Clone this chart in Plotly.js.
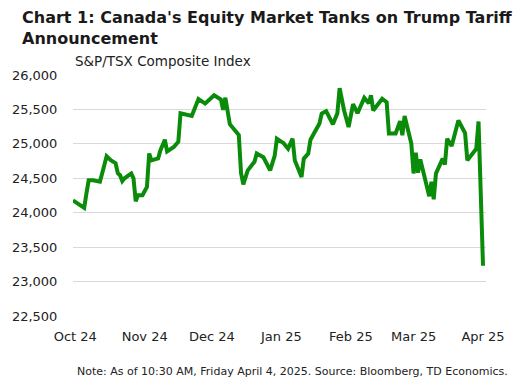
<!DOCTYPE html>
<html>
<head>
<meta charset="utf-8">
<script src="https://cdn.plot.ly/plotly-3.0.1.min.js"></script>
<style>html,body{margin:0;padding:0;background:#fff;}#chart{width:516px;height:386px;}</style>
</head>
<body>
<div id="chart"></div>
<script>
var dates = [
  "2024-09-30","2024-10-05","2024-10-06","2024-10-07","2024-10-09","2024-10-12","2024-10-13","2024-10-15",
  "2024-10-17","2024-10-19","2024-10-20","2024-10-21","2024-10-22","2024-10-23","2024-10-26","2024-10-27",
  "2024-10-28","2024-10-29","2024-10-31","2024-11-02","2024-11-03","2024-11-04","2024-11-07","2024-11-08",
  "2024-11-10","2024-11-11","2024-11-14","2024-11-16","2024-11-17","2024-11-22","2024-11-25","2024-11-28",
  "2024-12-02","2024-12-05","2024-12-06","2024-12-07","2024-12-09","2024-12-11","2024-12-13","2024-12-14",
  "2024-12-15","2024-12-17","2024-12-20","2024-12-21","2024-12-24","2024-12-27","2024-12-29","2024-12-30",
  "2025-01-02","2025-01-04","2025-01-06","2025-01-07","2025-01-10","2025-01-11","2025-01-13","2025-01-14",
  "2025-01-16","2025-01-18","2025-01-19","2025-01-21","2025-01-24","2025-01-26","2025-01-27","2025-01-29",
  "2025-01-31","2025-02-02","2025-02-04","2025-02-07","2025-02-09","2025-02-10","2025-02-11","2025-02-15",
  "2025-02-17","2025-02-18","2025-02-21","2025-02-23","2025-02-24","2025-02-25","2025-02-28","2025-03-01",
  "2025-03-02","2025-03-03","2025-03-04","2025-03-08","2025-03-09","2025-03-10","2025-03-11","2025-03-14",
  "2025-03-15","2025-03-16","2025-03-18","2025-03-21","2025-03-24","2025-03-25","2025-03-29","2025-03-30",
  "2025-04-01"
];
var tsxIndex = [
  24180,24070,24280,24470,24470,24450,24570,24820,
  24760,24720,24575,24545,24460,24500,24570,24500,
  24165,24255,24255,24375,24860,24760,24790,24905,
  25060,24890,24955,25030,25445,25405,25650,25585,
  25705,25645,25495,25670,25285,25205,25130,24575,
  24410,24615,24740,24860,24805,24615,24825,25075,
  25010,24930,25075,24760,24520,24785,24860,25060,
  25170,25295,25440,25475,25285,25445,25810,25485,
  25245,25575,25445,25670,25590,25705,25485,25655,
  25605,25150,25150,25330,25125,25405,25005,24570,
  24870,24580,24775,24240,24450,24195,24570,24785,
  24700,25075,24970,25340,25155,24760,24930,25325,
  23230
];
var monthTicks = ["2024-10-01","2024-11-01","2024-12-01","2025-01-01","2025-02-01","2025-03-01","2025-04-01"];
var monthLabels = ["Oct 24","Nov 24","Dec 24","Jan 25","Feb 25","Mar 25","Apr 25"];

var FONT = "'DejaVu Sans', sans-serif";

var trace = {
  x: dates, y: tsxIndex, type: "scatter", mode: "lines",
  line: {color: "#0a8c0a", width: 4, shape: "linear"},
  hoverinfo: "x+y"
};

var layout = {
  width: 516, height: 386,
  margin: {l: 73, r: 30, t: 74.5, b: 70},
  paper_bgcolor: "#ffffff", plot_bgcolor: "#ffffff",
  showlegend: false,
  font: {family: FONT, color: "#222222"},
  title: {
    text: "<b>Chart 1: Canada's Equity Market Tanks on Trump Tariff<br>Announcement</b>",
    font: {family: FONT, size: 16, color: "#1a1a1a"},
    x: 22/516, xanchor: "left", xref: "container",
    y: 1 - 23/386, yanchor: "top", yref: "container"
  },
  xaxis: {
    type: "date",
    range: ["2024-09-30", "2025-04-02 08:00"],
    tickvals: monthTicks, ticktext: monthLabels,
    showgrid: false, zeroline: false, showline: false,
    ticks: "outside", ticklen: 8, tickcolor: "rgba(0,0,0,0)",
    tickfont: {family: FONT, size: 13, color: "#222222"}
  },
  yaxis: {
    range: [22500, 26000],
    dtick: 500, tick0: 22500, tickformat: ",d",
    showgrid: true, gridcolor: "#d9d9d9", gridwidth: 1,
    zeroline: false, showline: false,
    ticks: "outside", ticklen: 12, tickcolor: "rgba(0,0,0,0)",
    tickfont: {family: FONT, size: 13, color: "#222222"}
  },
  annotations: [
    {text: "S&P/TSX Composite Index", xref: "paper", yref: "paper",
     x: 0, xanchor: "left", y: 1, yanchor: "bottom", yshift: 4, showarrow: false,
     font: {family: FONT, size: 13.5, color: "#222222"}},
    {text: "Note: As of 10:30 AM, Friday April 4, 2025. Source: Bloomberg, TD Economics.",
     xref: "paper", yref: "paper", x: 0.532, xanchor: "center",
     y: 0, yanchor: "middle", yshift: -55, showarrow: false,
     font: {family: FONT, size: 11, color: "#222222"}}
  ]
};

Plotly.newPlot("chart", [trace], layout, {displayModeBar: false, staticPlot: true});
</script>
</body>
</html>
